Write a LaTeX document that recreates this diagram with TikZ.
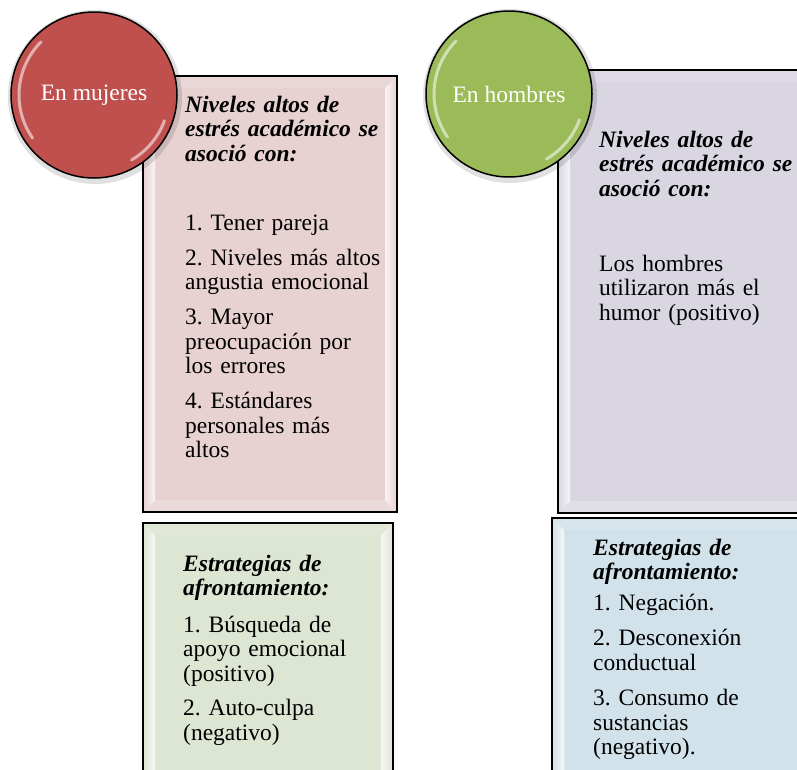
\documentclass[tikz,border=0pt]{standalone}
\usepackage{fontspec}
\setmainfont{Liberation Serif}
\frenchspacing
\definecolor{redc}{HTML}{C0504D}
\definecolor{greenc}{HTML}{9BBB59}
\definecolor{pinkbox}{HTML}{E7D1D1}
\definecolor{lavbox}{HTML}{D9D6E2}
\definecolor{grnbox}{HTML}{DDE5D3}
\definecolor{blubox}{HTML}{D2E2EA}
\newcommand{\bevelbox}[5]{%
  \fill[#5] (#1,#2) rectangle (#3,#4);
  \shade[left color=#5, right color=white!75!#5] (#1,#2) -- (#1+12,#2+12) -- (#1+12,#4-12) -- (#1,#4) -- cycle;
  \fill[white,opacity=.12] (#1,#2) -- (#1+12,#2+12) -- (#3-12,#2+12) -- (#3,#2) -- cycle;
  \shade[left color=white!75!#5, right color=#5] (#3,#2) -- (#3-12,#2+12) -- (#3-12,#4-12) -- (#3,#4) -- cycle;
  \fill[white,opacity=.2] (#1,#4) -- (#1+12,#4-12) -- (#3-12,#4-12) -- (#3,#4) -- cycle;
  \draw[black,line width=1.8pt] (#1,#2) rectangle (#3,#4);
}
\tikzset{
  txt/.style={anchor=base west, inner sep=0pt, text width=230pt, align=left,
    font=\fontsize{23.5}{24.5}\selectfont},
  badge/.style={circle, draw=black, line width=1.5pt, minimum size=166pt, inner sep=0pt,
    text=white, font=\fontsize{23.5}{24.5}\selectfont},
  gloss/.style={white, opacity=.55, line width=3pt, line cap=round}
}
\begin{document}
\begin{tikzpicture}[x=1pt,y=-1pt]
\useasboundingbox (0,0) rectangle (797,769);
\fill[white] (0,0) rectangle (797,769);
\clip (0,0) rectangle (797,769);
% boxes
\bevelbox{143}{76}{397}{512}{pinkbox}
\bevelbox{143}{523}{393}{790}{grnbox}
\bevelbox{558}{70}{820}{513}{lavbox}
\bevelbox{552}{518}{820}{790}{blubox}
% texts
\node[txt] (pinktext) at (185,112) {{\bfseries\itshape Niveles altos de\\ estrés académico se\\ asoció con:}\\[44.5pt]
1. Tener pareja\\[10.5pt]
2. Niveles más altos\\ angustia emocional\\[10.5pt]
3. Mayor\\ preocupación por\\ los errores\\[10.5pt]
4. Estándares\\ personales más\\ altos};
\node[txt] (greentext) at (183,571) {{\bfseries\itshape Estrategias de\\ afrontamiento:}\\[12pt]
1. Búsqueda de\\ apoyo emocional\\ (positivo)\\[10pt]
2. Auto-culpa\\ (negativo)};
\node[txt] (lavtext) at (599,147) {{\bfseries\itshape Niveles altos de\\ estrés académico se\\ asoció con:}\\[50.5pt]
Los hombres\\ utilizaron más el\\ humor (positivo)};
\node[txt] (bluetext) at (593,555) {{\bfseries\itshape Estrategias de\\ afrontamiento:}\\[6.5pt]
1. Negación.\\[10.5pt]
2. Desconexión\\ conductual\\[11pt]
3. Consumo de\\ sustancias\\ (negativo).};
% circles
\fill[black,opacity=.12] (95,97) circle (87);
\fill[black,opacity=.12] (510,96) circle (87);
\node[badge, fill=redc] (mujeres) at (94,95) {En mujeres};
\node[badge, fill=greenc] (hombres) at (509,94) {En hombres};
\draw[gloss] (mujeres.center) ++(135:75pt) arc[start angle=135, end angle=215, radius=75pt];
\draw[gloss] (mujeres.center) ++(-20:75pt) arc[start angle=-20, end angle=-60, radius=75pt];
\draw[gloss] (hombres.center) ++(135:75pt) arc[start angle=135, end angle=215, radius=75pt];
\draw[gloss] (hombres.center) ++(-20:75pt) arc[start angle=-20, end angle=-60, radius=75pt];
\end{tikzpicture}
\end{document}
